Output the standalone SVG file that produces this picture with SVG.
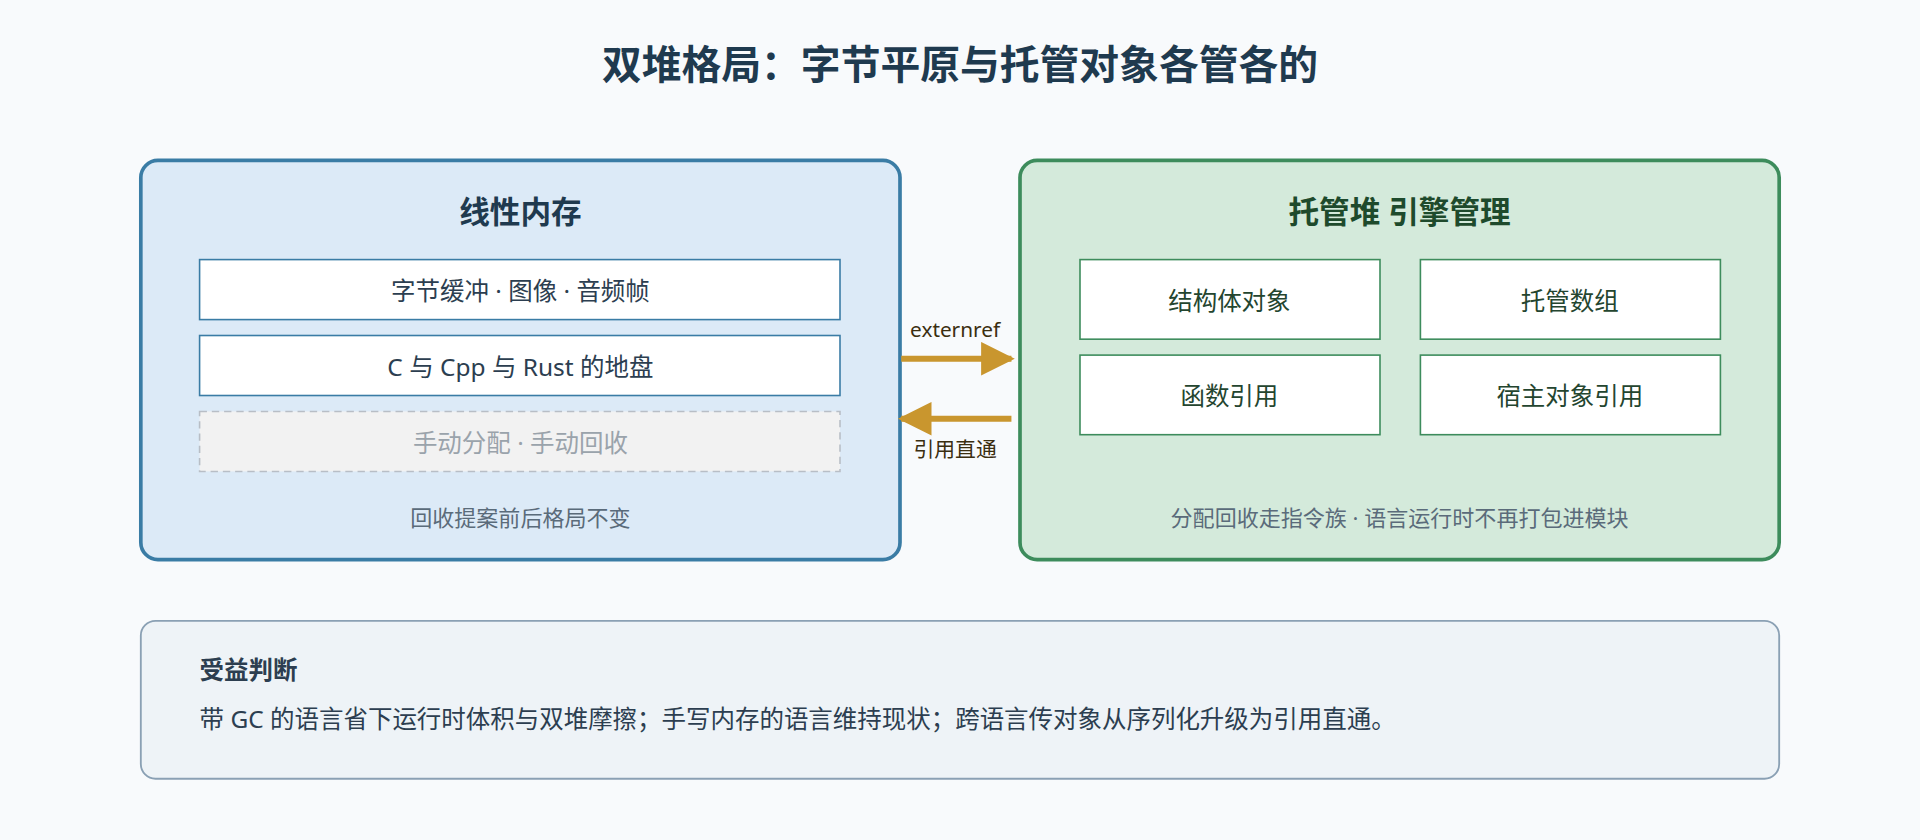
<svg xmlns="http://www.w3.org/2000/svg" width="1920" height="840" viewBox="0 0 1920 840">
<style>
text{font-family:"Noto Sans","Noto Sans CJK SC",sans-serif;text-anchor:middle;dominant-baseline:central}
.cell{fill:#fff;stroke:#3a7ca5;stroke-width:1.3}
.gcell{fill:#fff;stroke:#3d8c5c;stroke-width:1.3}
.t{font-size:20px;fill:#2c3e50}
.g{font-size:20px;fill:#24452f}
.f{font-size:18px;fill:#5a6b7a}
</style>
<defs>
<marker id="ah" viewBox="0 0 10 10" refX="9" refY="5" markerWidth="6" markerHeight="5.5" orient="auto-start-reverse" markerUnits="strokeWidth"><path d="M0,0L10,5L0,10z" fill="#c9962e"/></marker>
</defs>
<rect width="1920" height="840" fill="#f8fafc"/>
<g transform="scale(1.22449)">
<text x="784" y="52" style="font-size:32.5px;font-weight:bold;fill:#1f3a4f">双堆格局：字节平原与托管对象各管各的</text>
<g id="linear">
<rect x="115" y="131" width="620" height="326" rx="14" fill="#dceaf7" stroke="#3a7ca5" stroke-width="3"/>
<text x="425" y="172" style="font-size:25px;font-weight:bold;fill:#1f3a4f">线性内存</text>
<rect class="cell" x="163" y="212" width="523" height="49"/>
<text class="t" x="425" y="237">字节缓冲 · 图像 · 音频帧</text>
<rect class="cell" x="163" y="274" width="523" height="49"/>
<text class="t" x="425" y="299">C 与 Cpp 与 Rust 的地盘</text>
<rect x="163" y="336" width="523" height="49" fill="#f2f2f2" stroke="#b8bec6" stroke-width="1.3" stroke-dasharray="6 4"/>
<text x="425" y="361" style="font-size:20px;fill:#9aa3ab">手动分配 · 手动回收</text>
<text class="f" x="425" y="422">回收提案前后格局不变</text>
</g>
<g id="managed">
<rect x="833" y="131" width="620" height="326" rx="14" fill="#d4eadb" stroke="#3d8c5c" stroke-width="3"/>
<text x="1143" y="172" style="font-size:25px;font-weight:bold;fill:#1e4a2c">托管堆 引擎管理</text>
<rect class="gcell" x="882" y="212" width="245" height="65"/>
<text class="g" x="1004" y="245">结构体对象</text>
<rect class="gcell" x="1160" y="212" width="245" height="65"/>
<text class="g" x="1282" y="245">托管数组</text>
<rect class="gcell" x="882" y="290" width="245" height="65"/>
<text class="g" x="1004" y="323">函数引用</text>
<rect class="gcell" x="1160" y="290" width="245" height="65"/>
<text class="g" x="1282" y="323">宿主对象引用</text>
<text class="f" x="1143" y="422">分配回收走指令族 · 语言运行时不再打包进模块</text>
</g>
<g id="connectors">
<line x1="736" y1="293" x2="826" y2="293" stroke="#c9962e" stroke-width="5" marker-end="url(#ah)"/>
<text x="780" y="269" style="font-size:17px;fill:#3b2e10">externref</text>
<line x1="826" y1="342" x2="736" y2="342" stroke="#c9962e" stroke-width="5" marker-end="url(#ah)"/>
<text x="780" y="367" style="font-size:17px;fill:#3b2e10">引用直通</text>
</g>
<g id="benefit">
<rect x="115" y="507" width="1338" height="129" rx="12" fill="#eef3f7" stroke="#8aa0b4" stroke-width="1.5"/>
<text x="163" y="547" style="font-size:20px;font-weight:bold;fill:#2c3e50;text-anchor:start">受益判断</text>
<text x="163" y="587" style="font-size:20px;fill:#2c3e50;text-anchor:start">带 GC 的语言省下运行时体积与双堆摩擦；手写内存的语言维持现状；跨语言传对象从序列化升级为引用直通。</text>
</g>
</g>
</svg>
